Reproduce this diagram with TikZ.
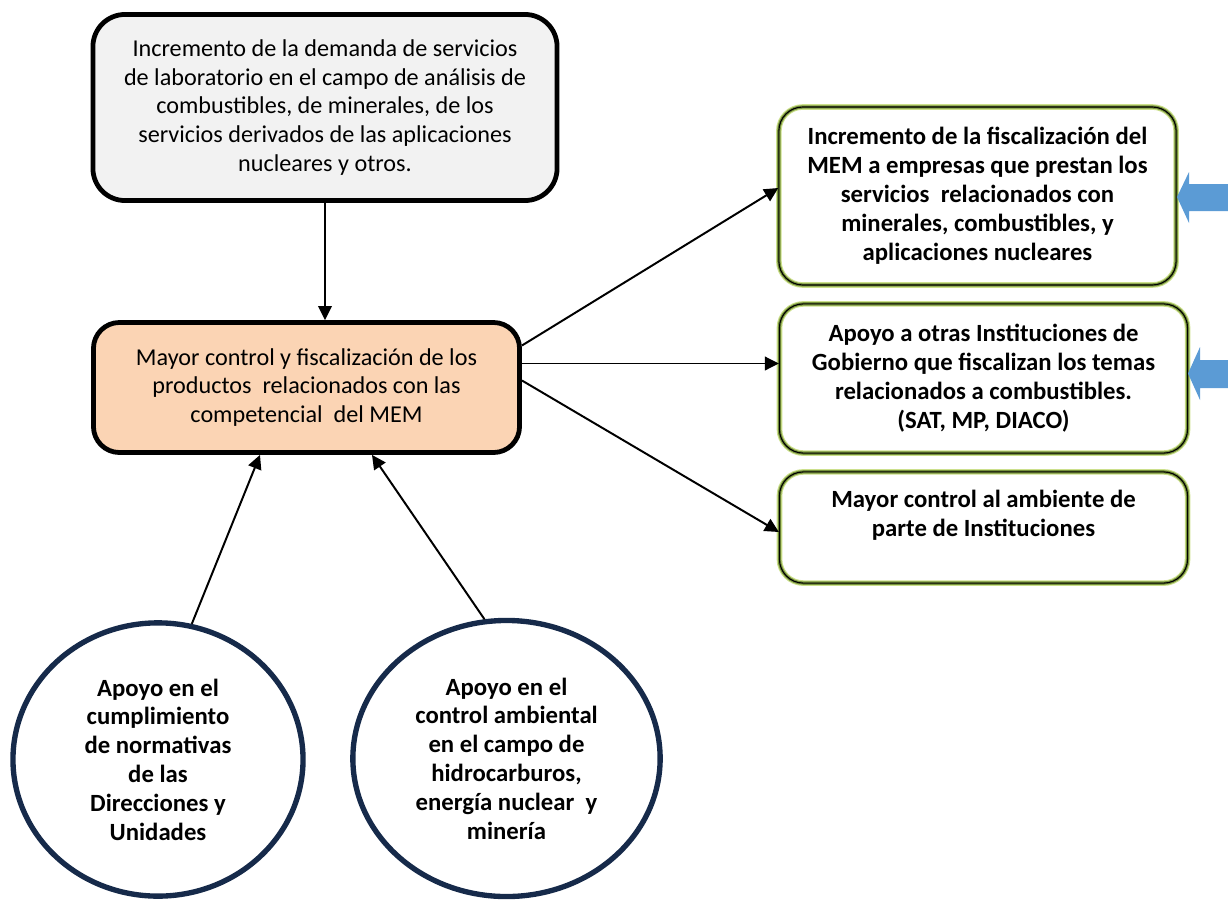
\documentclass[tikz,border=0pt]{standalone}
\usepackage{fontspec}
\setmainfont{Carlito}
\usepackage{tikz}
\usetikzlibrary{shapes.geometric, arrows.meta, calc}
\definecolor{demandgray}{RGB}{242,242,242}
\definecolor{controlpeach}{RGB}{251,212,180}
\definecolor{limeedge}{RGB}{204,224,140}
\definecolor{oliveedge}{RGB}{118,146,60}
\definecolor{supportnavy}{RGB}{22,42,74}
\definecolor{pointblue}{RGB}{91,155,213}
\tikzset{
    mainbox/.style={rectangle, draw=black, fill=#1, line width=3.4pt, align=center, inner sep=0pt, font=\fontsize{17.2}{20.5}\selectfont},
    effectbox/.style={rectangle, draw=black, line width=0.8pt, rounded corners=0.6cm, align=center, inner sep=0pt, font=\fontsize{17.6}{20.6}\selectfont\bfseries, preaction={draw=limeedge, line width=4pt}, preaction={draw=oliveedge, line width=2.4pt}},
    supportcircle/.style={ellipse, draw=supportnavy, line width=3.8pt, align=center, inner sep=0pt, font=\fontsize{17.6}{20.5}\selectfont\bfseries},
    flowarrow/.style={-{Triangle[length=3.5mm, width=3.4mm]}, line width=1.4pt}
}

\begin{document}
\begin{tikzpicture}[x=0.025cm, y=-0.025cm]
\useasboundingbox (0,0) rectangle (1228,901);

% cause and central problem
\node[mainbox=demandgray, rounded corners=0.8cm, minimum width=11.6cm, minimum height=4.65cm] (demand) at (325,107.5) {Incremento de la demanda de servicios\\de laboratorio en el campo de análisis de\\combustibles, de minerales, de los\\servicios derivados de las aplicaciones\\nucleares y otros.};
\node[mainbox=controlpeach, rounded corners=0.65cm, minimum width=10.65cm, minimum height=3.25cm] (control) at (306.5,387.5) {Mayor control y fiscalización de los\\productos~ relacionados con las\\competencial~ del MEM};

% effects
\node[effectbox, minimum width=9.93cm, minimum height=4.45cm] (fiscal) at (977.5,196) {Incremento de la fiscalización del\\MEM a empresas que prestan los\\servicios~ relacionados con\\minerales, combustibles, y\\aplicaciones nucleares};
\node[effectbox, minimum width=10.2cm, minimum height=3.73cm] (support) at (983.5,378.5) {Apoyo a otras Instituciones de\\Gobierno que fiscalizan los temas\\relacionados a combustibles.\\(SAT, MP, DIACO)};
\node[effectbox, minimum width=10.2cm, minimum height=2.78cm] (environ) at (983.5,527.5) {Mayor control al ambiente de\\parte de Instituciones\\\mbox{}};

% supports
\node[supportcircle, minimum width=7.25cm, minimum height=6.83cm] (norms) at (158,759.5) {Apoyo en el\\cumplimiento\\de normativas\\de las\\Direcciones y\\Unidades};
\node[supportcircle, minimum width=7.68cm, minimum height=6.9cm] (envsupport) at (506.5,758.5) {Apoyo en el\\control ambiental\\en el campo de\\hidrocarburos,\\energía nuclear~ y\\minería};

\draw[flowarrow] (demand.south) -- (demand.south |- control.north);
\draw[flowarrow] ($(control.east)+(0,-42)$) -- ($(fiscal.west)+(0,-8)$);
\draw[flowarrow] ($(control.east)+(0,-24)$) -- ($(support.west)+(0,-15)$);
\draw[flowarrow] ($(control.east)+(0,-7)$) -- ($(environ.west)+(0,4.5)$);
\draw[flowarrow] (norms.76) -- ($(control.south)+(-46.5,0)$);
\draw[flowarrow] (envsupport.99) -- ($(control.south)+(65.5,0)$);

% blue pointers
\fill[pointblue] (1228,184) -- (1189,184) -- (1189,172) -- (1177,197) -- (1189,223) -- (1189,211) -- (1228,211) -- cycle;
\fill[pointblue] (1228,360) -- (1200,360) -- (1200,347) -- (1188,373.5) -- (1200,400) -- (1200,388) -- (1228,388) -- cycle;

\end{tikzpicture}
\end{document}
